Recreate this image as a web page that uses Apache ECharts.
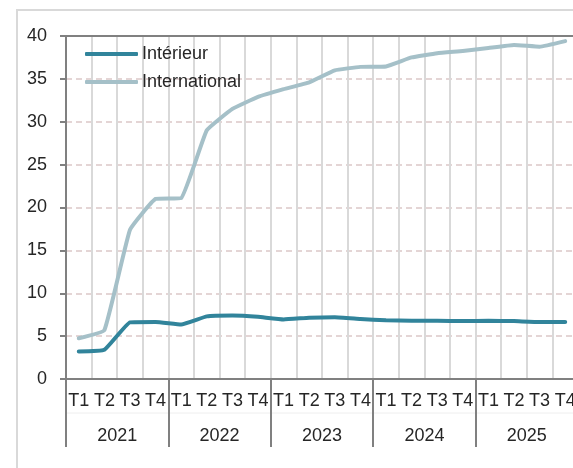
<!DOCTYPE html>
<html>
<head>
<meta charset="utf-8">
<script src="https://cdn.jsdelivr.net/npm/echarts@6/dist/echarts.min.js"></script>
<style>
html,body{margin:0;padding:0;overflow:hidden;background:#fff;}
#c{width:590px;height:468px;}
</style>
</head>
<body>
<div id="c"></div>
<script>
const quarters = ['T1','T2','T3','T4','T1','T2','T3','T4','T1','T2','T3','T4','T1','T2','T3','T4','T1','T2','T3','T4'];
const years = ['2021','2022','2023','2024','2025'];
const interieur = [3.2,3.4,6.6,6.65,6.35,7.3,7.4,7.25,6.95,7.15,7.2,7.0,6.85,6.8,6.8,6.75,6.8,6.75,6.65,6.65];
const international = [4.75,5.7,17.4,21.0,21.1,29.0,31.5,32.9,33.8,34.6,36.0,36.4,36.45,37.5,38.0,38.25,38.6,38.95,38.75,39.4];
const yTicks = {min:0, max:40, interval:5};

const FONT = 'Liberation Sans, Arial, sans-serif';
const chart = echarts.init(document.getElementById('c'), null, {renderer:'canvas'});
chart.setOption({
  animation:false,
  backgroundColor:'#fff',
  grid:{left:66, top:36, width:512, height:343},
  graphic:[
    {type:'rect', shape:{x:17,y:10,width:700,height:600}, style:{fill:'none', stroke:'#d9d9d9', lineWidth:2}, z:-10},
    {type:'line', shape:{x1:66,y1:413,x2:580,y2:413}, style:{stroke:'#eeeeee', lineWidth:1}, z:-5}
  ],
  legend:{
    data:['Intérieur','International'],
    orient:'vertical', left:85, top:45, padding:0, itemWidth:53, itemHeight:4, itemGap:10,
    icon:'roundRect',
    textStyle:{fontFamily:FONT, fontSize:18, color:'#262626', padding:[0,0,0,-1]},
    backgroundColor:'rgba(0,0,0,0)'
  },
  xAxis:[
    {type:'category', data:quarters, position:'bottom', boundaryGap:true,
     axisLine:{lineStyle:{color:'#808080', width:2}},
     axisTick:{show:false},
     axisLabel:{interval:0, margin:13, fontFamily:FONT, fontSize:18, color:'#262626'},
     splitLine:{show:true, interval:0, lineStyle:{color:'#d9d9d9', width:2}}},
    {type:'category', data:years, position:'bottom', boundaryGap:true,
     axisLine:{show:false},
     axisTick:{show:true, interval:0, length:68, inside:false, lineStyle:{color:'#808080', width:2}},
     axisLabel:{interval:0, margin:48, fontFamily:FONT, fontSize:18, color:'#262626'},
     splitLine:{show:false}},
    {type:'category', data:quarters, position:'top', boundaryGap:true,
     axisLine:{show:true, lineStyle:{color:'#808080', width:2}},
     axisTick:{show:false}, axisLabel:{show:false}, splitLine:{show:false}}
  ],
  yAxis:{type:'value', min:yTicks.min, max:yTicks.max, interval:yTicks.interval,
    axisLine:{show:true, lineStyle:{color:'#808080', width:2}},
    axisTick:{show:true, length:6, lineStyle:{color:'#808080', width:2}},
    axisLabel:{margin:19, fontFamily:FONT, fontSize:18, color:'#262626'},
    splitLine:{show:true, lineStyle:{color:'#dcc8c8', width:1.5, type:[6,4]}}
  },
  series:[
    {name:'International', type:'line', data:international, xAxisIndex:0, symbol:'none', smooth:0.1,
     lineStyle:{color:'#a5c0c8', width:4, cap:'round', join:'round'}, itemStyle:{color:'#a5c0c8'}},
    {name:'Intérieur', type:'line', data:interieur, xAxisIndex:0, symbol:'none', smooth:0.1,
     lineStyle:{color:'#31849b', width:4, cap:'round', join:'round'}, itemStyle:{color:'#31849b'}}
  ]
});
</script>
</body>
</html>
